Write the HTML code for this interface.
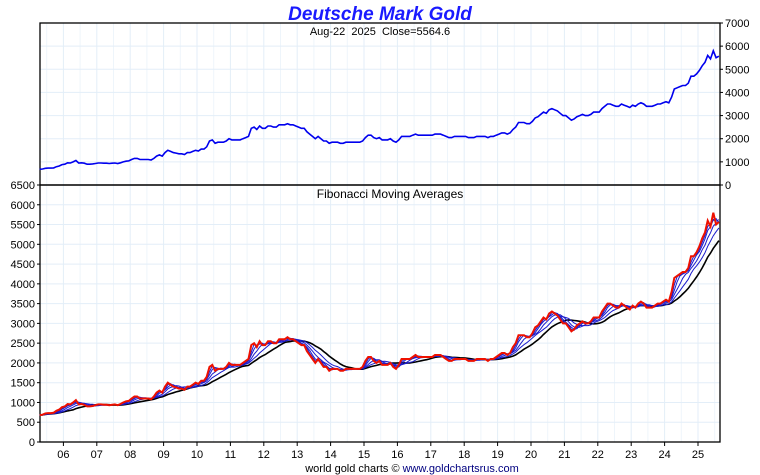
<!DOCTYPE html>
<html><head><meta charset="utf-8"><style>
body{margin:0;background:#fff;width:760px;height:475px;overflow:hidden}
svg{display:block;font-family:"Liberation Sans",sans-serif}
</style></head><body>
<svg id="c" width="760" height="475"></svg>
<script>
const startYear = 2005.25;
const prices = [680,690,720,730,730,740,790,820,880,
900,960,950,1000,1060,950,960,940,900,900,910,930,
950,950,940,940,930,940,950,930,960,1000,1030,1040,
1100,1150,1150,1100,1100,1100,1100,1080,1150,1250,1300,1250,
1400,1500,1450,1400,1380,1350,1350,1320,1400,1400,1450,1500,
1470,1550,1550,1650,1900,1950,1800,1850,1850,1850,1900,2000,
1950,1950,1950,1950,2000,2050,2100,2450,2500,2400,2550,2450,
2450,2550,2550,2500,2500,2600,2600,2600,2650,2600,2600,2550,
2500,2450,2450,2300,2200,2100,2000,2100,2000,1900,1900,1800,
1850,1850,1850,1800,1800,1850,1850,1850,1850,1850,1850,1900,
2050,2150,2150,2050,2000,2050,1950,1950,1950,2000,1900,1850,
1950,2100,2100,2100,2100,2150,2200,2150,2150,2150,2150,2150,
2150,2200,2200,2200,2150,2100,2050,2050,2100,2100,2100,2100,
2100,2050,2050,2050,2100,2100,2100,2100,2050,2100,2100,2150,
2200,2250,2250,2200,2250,2400,2500,2700,2700,2700,2650,2650,
2750,2900,2950,3050,3150,3100,3250,3300,3250,3200,3100,3000,
3000,2900,2800,2850,2950,3000,3050,3000,3000,3050,3150,3150,
3150,3300,3400,3500,3500,3450,3400,3400,3500,3450,3400,3350,
3450,3400,3500,3550,3500,3400,3400,3400,3450,3500,3500,3550,
3600,3550,3800,4150,4200,4250,4300,4300,4400,4700,4700,4800,
4950,5150,5300,5600,5450,5800,5500,5565];
const blueWindows = [2,3,5,8];
const blackWindow = 13;
const yearLabels = ["06","07","08","09","10","11","12","13","14","15","16","17","18","19","20","21","22","23","24","25"];
const topTicks = [0,1000,2000,3000,4000,5000,6000,7000];
const botTicks = [0,500,1000,1500,2000,2500,3000,3500,4000,4500,5000,5500,6000,6500];

const NS="http://www.w3.org/2000/svg", svg=document.getElementById('c');
function el(t,a,txt){const e=document.createElementNS(NS,t);for(const k in a)e.setAttribute(k,a[k]);if(txt!=null)e.textContent=txt;svg.appendChild(e);return e;}
const L=40,R=720,T=23,M=185,B=442;
const xT=t=>63.4+(t-2006)*33.4;
const yTop=v=>M-(v/7000)*(M-T);
const yBot=v=>B-(v/6500)*(B-M);
const tOf=i=>startYear+(i+0.5)/12;

for(let x=xT(2006)-33.4/2; x<R; x+=33.4){ if(x>L){const g=el('line',{x1:x,x2:x,y1:T,y2:B,stroke:'#eef5fb'});}}
for(let k=0;k<yearLabels.length;k++){const x=xT(2006+k);
 let g=el('line',{x1:x,x2:x,y1:T,y2:B,stroke:'#e3eef8'});
 }
topTicks.forEach(v=>{const y=yTop(v);const g=el('line',{x1:L,x2:R,y1:y,y2:y,stroke:'#e3eef8'});
 const t=el('text',{x:725,y:y+4,'font-size':11,fill:'#000'},v);
 el('line',{x1:R,x2:R+3,y1:y,y2:y,stroke:'#000'});});
botTicks.forEach(v=>{const y=yBot(v);const g=el('line',{x1:L,x2:R,y1:y,y2:y,stroke:'#e3eef8'});
 const t=el('text',{x:35,y:y+4,'font-size':11,'text-anchor':'end',fill:'#000'},v);
 el('line',{x1:L-3,x2:L,y1:y,y2:y,stroke:'#000'});});
yearLabels.forEach((s,k)=>{const x=xT(2006+k);el('line',{x1:x,x2:x,y1:B,y2:B+4,stroke:'#000'});
 const t=el('text',{x:x,y:B+16,'font-size':11,'text-anchor':'middle',fill:'#000'},s);});

let f=el('rect',{x:L,y:T,width:R-L,height:M-T,fill:'none',stroke:'#000','stroke-width':1.3});
f=el('rect',{x:L,y:M,width:R-L,height:B-M,fill:'none',stroke:'#000','stroke-width':1.3});

function pts(arr,yf){return arr.map((v,i)=>xT(tOf(i)).toFixed(1)+','+yf(v).toFixed(1)).join(' ');}
function sma(w){return prices.map((v,i)=>{const s0=Math.max(0,i-w+1);let s=0;for(let j=s0;j<=i;j++)s+=prices[j];return s/(i-s0+1);});}

let p=el('polyline',{points:pts(prices,yTop),fill:'none',stroke:'#0000ee','stroke-width':1.6});


p=el('polyline',{points:pts(sma(blackWindow),yBot),fill:'none',stroke:'#000','stroke-width':1.6});

blueWindows.slice().reverse().forEach(w=>{const q=el('polyline',{points:pts(sma(w),yBot),fill:'none',stroke:'#1a1acc','stroke-width':1});
 });
p=el('polyline',{points:pts(prices,yBot),fill:'none',stroke:'#ee1100','stroke-width':2});


let t=el('text',{x:380,y:20,'font-size':19,'font-weight':'bold','font-style':'italic','text-anchor':'middle',fill:'#1a1aff'},'Deutsche Mark Gold');

t=el('text',{x:380,y:35,'font-size':11,'text-anchor':'middle',fill:'#000',style:'white-space:pre'},'Aug-22  2025  Close=5564.6');

t=el('text',{x:390,y:198,'font-size':12,'text-anchor':'middle',fill:'#000'},'Fibonacci Moving Averages');

t=el('text',{x:412,y:472,'font-size':11,'text-anchor':'middle',fill:'#000'});

t.innerHTML='world gold charts © <tspan fill="#000080">www.goldchartsrus.com</tspan>';
</script>
</body></html>
